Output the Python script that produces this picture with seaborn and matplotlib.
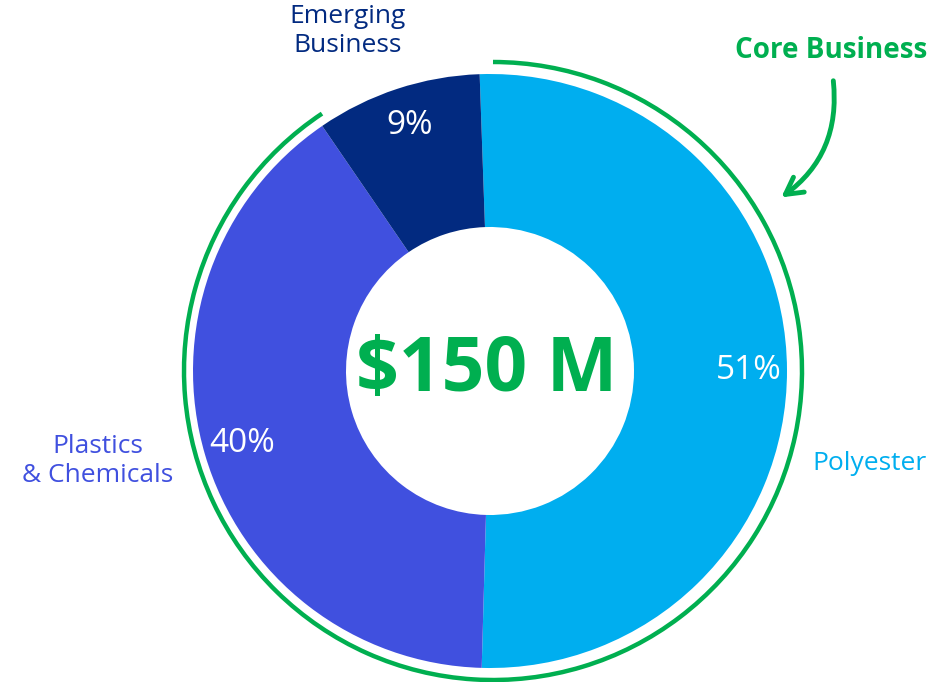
import matplotlib
matplotlib.use("Agg")
from matplotlib import pyplot as plt
from matplotlib.patches import Arc
import seaborn as sns

# data
segments = ["Polyester", "Plastics\n& Chemicals", "Emerging\nBusiness"]
shares = [51, 40, 9]
seg_colors = ["#00AEEF", "#4050DF", "#022A80"]
total_label = "$150 M"
core_label = "Core Business"

sns.set_theme(style="white")
plt.rcParams["font.family"] = ["Open Sans", "DejaVu Sans"]

green = "#00AF50"
H = 682
cx, cy = 490, H - 371

fig = plt.figure(figsize=(9.49, 6.82), dpi=100)
ax = fig.add_axes([0, 0, 1, 1])

wedges, texts, autotexts = ax.pie(
    shares, colors=seg_colors, startangle=92, counterclock=False,
    radius=297, center=(cx, cy), frame=True,
    wedgeprops=dict(width=153, linewidth=0),
    autopct="%d%%", pctdistance=0.87,
    textprops=dict(color="white", fontsize=24))
ax.set_xlim(0, 949)
ax.set_ylim(0, H)
ax.set_aspect("equal")
ax.axis("off")

# category labels
ax.text(870, H - 463, segments[0], color=seg_colors[0], fontsize=19,
        ha="center", va="center")
ax.text(98, H - 461, segments[1], color=seg_colors[1], fontsize=19,
        ha="center", va="center", linespacing=1.2)
ax.text(348, H - 31, segments[2], color=seg_colors[2], fontsize=19,
        ha="center", va="center", linespacing=1.2)

# centre total
ax.text(cx - 3, cy, total_label, color=green, fontsize=54, fontweight="bold",
        ha="center", va="center")

# core business arc + arrow
ax.add_patch(Arc((cx + 3, cy), 618, 618, theta1=123.6, theta2=450,
                 color=green, lw=3.2))
ax.text(831, H - 50, core_label, color=green, fontsize=20, fontweight="bold",
        ha="center", va="center")
ax.annotate("", xy=(779, H - 199), xytext=(833, H - 78),
            arrowprops=dict(arrowstyle="->,head_length=1.0,head_width=0.55",
                            color=green, lw=3.5,
                            connectionstyle="arc3,rad=-0.3"))

fig.savefig("out.png", dpi=100)
